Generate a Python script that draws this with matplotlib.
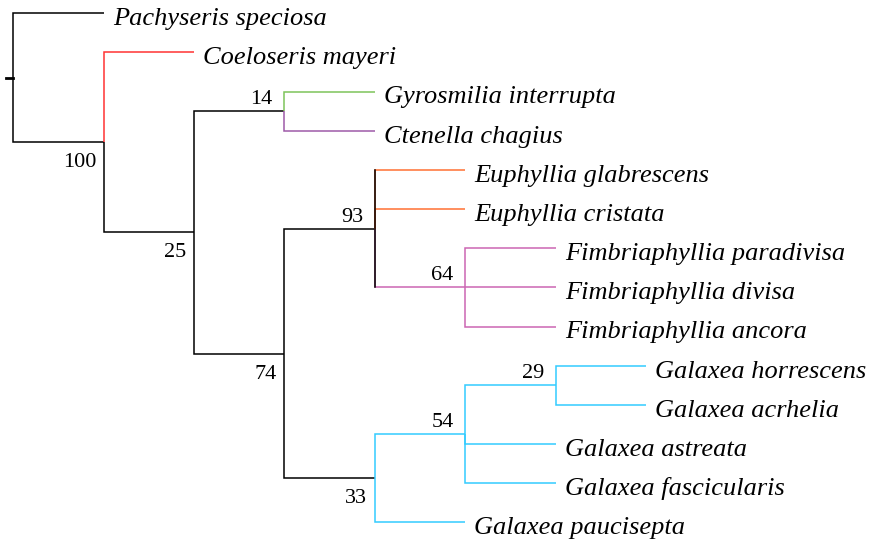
import matplotlib
matplotlib.use("Agg")
import matplotlib.pyplot as plt

plt.rcParams["font.family"] = "serif"
plt.rcParams["font.serif"] = ["Liberation Serif", "Nimbus Roman", "Times New Roman", "DejaVu Serif"]

# tips, top to bottom
leaves = ["Pachyseris speciosa", "Coeloseris mayeri", "Gyrosmilia interrupta", "Ctenella chagius",
          "Euphyllia glabrescens", "Euphyllia cristata", "Fimbriaphyllia paradivisa",
          "Fimbriaphyllia divisa", "Fimbriaphyllia ancora", "Galaxea horrescens",
          "Galaxea acrhelia", "Galaxea astreata", "Galaxea fascicularis", "Galaxea paucisepta"]
leaf_colors = ["black", "#ff3333", "#7dc45a", "#9e5aa8", "#ff7033", "#ff7033",
               "#cc66b3", "#cc66b3", "#cc66b3", "#33ccff", "#33ccff", "#33ccff", "#33ccff", "#33ccff"]

# internal nodes
node_names = ["root", "A", "B", "C", "D", "E", "G", "F", "H", "I"]
node_children = [["Pachyseris speciosa", "A"],
                 ["Coeloseris mayeri", "B"],
                 ["C", "D"],
                 ["Gyrosmilia interrupta", "Ctenella chagius"],
                 ["E", "F"],
                 ["Euphyllia glabrescens", "Euphyllia cristata", "G"],
                 ["Fimbriaphyllia paradivisa", "Fimbriaphyllia divisa", "Fimbriaphyllia ancora"],
                 ["H", "Galaxea paucisepta"],
                 ["I", "Galaxea astreata", "Galaxea fascicularis"],
                 ["Galaxea horrescens", "Galaxea acrhelia"]]
node_colors = ["black", "black", "black", "black", "black", "black", "#cc66b3", "black", "#33ccff", "#33ccff"]
node_support = [None, 100, 25, 14, 74, 93, 64, 33, 54, 29]
label_above = [False, False, False, True, False, True, True, False, True, True]
vline_override = {"E": "black"}

children = dict(zip(node_names, node_children))
color = dict(zip(leaves, leaf_colors))
color.update(zip(node_names, node_colors))

pos_y = {name: i for i, name in enumerate(leaves)}
pos_x = {}


def layout(name, depth):
    pos_x[name] = depth
    if name in children:
        ys = [layout(c, depth + 1) for c in children[name]]
        pos_y[name] = (ys[0] + ys[-1]) / 2
    return pos_y[name]


layout("root", 0)

fig = plt.figure(figsize=(8.75, 5.42), dpi=100)
ax = fig.add_axes([0, 0, 1, 1])
ax.set_xlim(-0.147, 9.532)
ax.set_ylim(13.50, -0.34)
ax.axis("off")

lw = 1.1
for name, kids in children.items():
    px, py = pos_x[name], pos_y[name]
    for c in kids:
        ax.plot([px, px, pos_x[c]], [py, pos_y[c], pos_y[c]], color=color[c], lw=lw,
                solid_capstyle="butt", solid_joinstyle="miter")
    if name in vline_override:
        ax.plot([px, px], [pos_y[kids[0]], pos_y[kids[-1]]], color=vline_override[name], lw=lw)

# root stub
ax.plot([pos_x["root"] - 0.08, pos_x["root"]], [pos_y["root"]] * 2, color="black", lw=2)

for name in leaves:
    ax.text(pos_x[name] + 0.1, pos_y[name] + 0.3, name, fontsize=19, style="italic",
            ha="left", va="baseline")

for name, s, up in zip(node_names, node_support, label_above):
    if s is None:
        continue
    if up:
        ax.text(pos_x[name] - 0.13, pos_y[name] - 0.18, str(s), fontsize=16,
                ha="right", va="baseline")
    else:
        ax.text(pos_x[name] - 0.083, pos_y[name] + 0.64, str(s), fontsize=16,
                ha="right", va="baseline")

fig.savefig("out.png", dpi=100)
